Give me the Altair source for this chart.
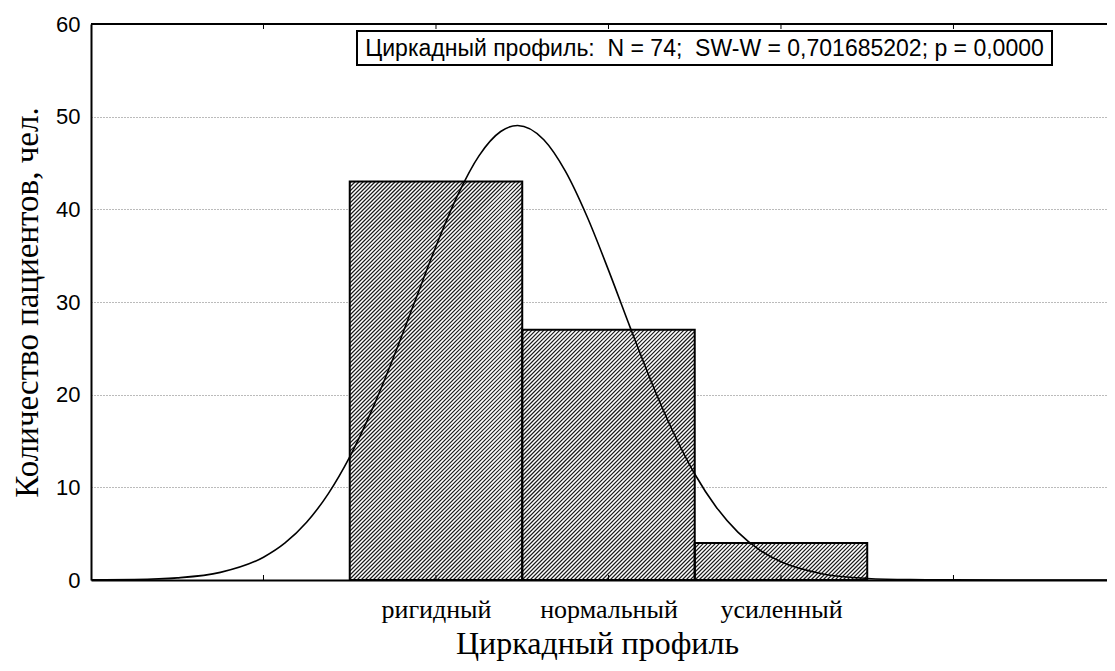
import altair as alt
import pandas as pd

# ---------------- data ----------------
categories = ["ригидный", "нормальный", "усиленный"]
counts = [43, 27, 4]
cat_pos = [1, 2, 3]
tick_pos = [0, 1, 2, 3, 4]

# fitted normal curve
curve_x = [-1.0, -0.75, -0.5, -0.25, 0.0, 0.125, 0.25, 0.375, 0.5, 0.625, 0.75, 0.875,
           1.0, 1.125, 1.25, 1.375, 1.473, 1.625, 1.75, 1.875, 2.0, 2.125, 2.25, 2.375,
           2.5, 2.625, 2.75, 2.875, 3.0, 3.25, 3.5, 3.75, 4.0, 4.3, 4.9]
curve_y = [0.01, 0.05, 0.23, 0.82, 2.46, 4.00, 6.23, 9.30, 13.29, 18.19, 23.85, 29.94,
           36.02, 41.50, 45.80, 48.40, 49.05, 47.51, 44.12, 39.25, 33.44, 27.29, 21.32, 15.97,
           11.44, 7.86, 5.17, 3.26, 1.96, 0.63, 0.17, 0.04, 0.01, 0.0, 0.0]

y_ticks = [0, 10, 20, 30, 40, 50, 60]
stat_text = "Циркадный профиль:\u00a0 N = 74;\u00a0 SW-W = 0,701685202; p = 0,0000"
x_title = "Циркадный профиль"
y_title = "Количество пациентов, чел."

# ---------------- layout ----------------
W, H = 1016, 556
X_MIN, X_MAX = -1.0, 4.89
Y_MAX = 60
px_per_x = W / (X_MAX - X_MIN)
px_per_y = H / Y_MAX
HATCH_STEP = 4.0  # pixels between hatch lines (horizontal)

xscale = alt.Scale(domain=[X_MIN, X_MAX], nice=False, zero=False)
yscale = alt.Scale(domain=[0, Y_MAX], nice=False, zero=False)

label_expr = " : ".join(
    f"datum.value == {p} ? '{c}'" for p, c in zip(cat_pos, categories)
) + " : ''"

x_axis = alt.Axis(
    values=cat_pos, labelExpr=label_expr, grid=False, ticks=False,
    domainColor="black", domainWidth=2,
    labelFont="Liberation Serif", labelFontSize=26, labelColor="black",
    labelBaseline="alphabetic", labelPadding=37,
    title=x_title, titleFont="Liberation Serif", titleFontSize=32,
    titleFontWeight="normal", titleColor="black",
    titleX=506, titleY=73, titleAlign="center", titleBaseline="alphabetic",
)
y_axis = alt.Axis(
    values=y_ticks, grid=True, gridDash=[1, 2], gridColor="#777", gridWidth=1,
    ticks=False, domainColor="black", domainWidth=2,
    labelFont="Liberation Sans", labelFontSize=22, labelColor="black",
    labelPadding=11, labelBaseline="middle",
    title=y_title, titleFont="Liberation Serif", titleFontSize=33,
    titleFontWeight="normal", titleColor="black",
    titleX=-54, titleY=H / 2, titleAngle=270, titleAlign="center",
    titleBaseline="alphabetic",
)

bars_df = pd.DataFrame({"cat": categories, "count": counts, "pos": cat_pos})
bars_df["x0"] = bars_df["pos"] - 0.5
bars_df["x1"] = bars_df["pos"] + 0.5
bars_df["zero"] = 0

# hatch lines (45 deg) derived from each bar's extent
rows = []
for p, n in zip(cat_pos, counts):
    x0 = p - 0.5
    bw = px_per_x           # bar width in px
    bh = n * px_per_y       # bar height in px
    off = ((x0 - X_MIN) * px_per_x) % HATCH_STEP
    k = -bw - off
    while k < bh:
        X0 = max(0.0, -k)
        X1 = min(bw, bh - k)
        if X1 > X0:
            rows.append({
                "hx": x0 + X0 / px_per_x, "hy": (X0 + k) / px_per_y,
                "hx2": x0 + X1 / px_per_x, "hy2": (X1 + k) / px_per_y,
            })
        k += HATCH_STEP
hatch_df = pd.DataFrame(rows)

bar_fill = alt.Chart(bars_df).mark_bar(fill="white", stroke=None).encode(
    x=alt.X("x0:Q", scale=xscale, axis=x_axis),
    x2="x1:Q",
    y=alt.Y("count:Q", scale=yscale, axis=y_axis),
    y2="zero:Q",
)
hatch = alt.Chart(hatch_df).mark_rule(color="#1a1a1a", strokeWidth=1.2).encode(
    x=alt.X("hx:Q", scale=xscale, axis=x_axis),
    x2="hx2:Q",
    y=alt.Y("hy:Q", scale=yscale, axis=y_axis),
    y2="hy2:Q",
)
bar_edge = alt.Chart(bars_df).mark_bar(
    fillOpacity=0, stroke="black", strokeWidth=2
).encode(
    x=alt.X("x0:Q", scale=xscale, axis=x_axis),
    x2="x1:Q",
    y=alt.Y("count:Q", scale=yscale, axis=y_axis),
    y2="zero:Q",
)

curve_df = pd.DataFrame({"x": curve_x, "y": curve_y})
curve = alt.Chart(curve_df).mark_line(
    color="black", strokeWidth=1.6, interpolate="monotone", clip=True
).encode(
    x=alt.X("x:Q", scale=xscale, axis=x_axis),
    y=alt.Y("y:Q", scale=yscale, axis=y_axis),
)

ticks_df = pd.DataFrame({"t": tick_pos})
tick_bottom = alt.Chart(ticks_df).mark_rule(color="black", strokeWidth=1).encode(
    x=alt.X("t:Q", scale=xscale, axis=x_axis),
    y=alt.value(H), y2=alt.value(H - 5),
)
tick_top = alt.Chart(ticks_df).mark_rule(color="black", strokeWidth=1).encode(
    x=alt.X("t:Q", scale=xscale, axis=x_axis),
    y=alt.value(0), y2=alt.value(5),
)
top_frame = alt.Chart(pd.DataFrame({"a": [0]})).mark_rule(
    color="black", strokeWidth=2
).encode(x=alt.value(0), x2=alt.value(W), y=alt.value(0))

ann_df = pd.DataFrame({"label": [stat_text]})
ann_box = alt.Chart(ann_df).mark_rect(
    fill="white", stroke="black", strokeWidth=2
).encode(x=alt.value(266), x2=alt.value(961), y=alt.value(7), y2=alt.value(41))
ann_text = alt.Chart(ann_df).mark_text(
    font="Liberation Sans", fontSize=23, color="black",
    align="center", baseline="middle"
).encode(x=alt.value(613.5), y=alt.value(24.5), text="label:N")

chart = alt.layer(
    bar_fill, hatch, bar_edge, curve, tick_bottom, tick_top, top_frame,
    ann_box, ann_text
).properties(
    width=W, height=H,
    padding={"left": 83, "top": 16, "right": 0, "bottom": 83},
    autosize=alt.AutoSizeParams(type="none"),
    background="white",
).configure_view(stroke=None)

chart.save("out.html", embed_options={"renderer": "svg", "actions": False})
